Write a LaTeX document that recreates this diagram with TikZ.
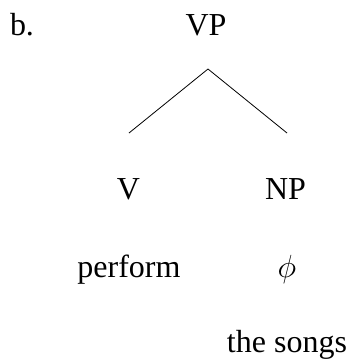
\RequirePackage{fix-cm}
\documentclass[tikz,border=0pt]{standalone}
\usepackage{fontspec}
\setmainfont{Liberation Serif}
\begin{document}
\begin{tikzpicture}[x=1pt,y=-1pt,
  lbl/.style={inner sep=0pt,anchor=base,font=\fontsize{32}{38}\selectfont},
  branch/.style={line width=0.8pt}]
\useasboundingbox (0,0) rectangle (352,360);
\node[lbl] (ex) at (22,35) {b.};
\node[lbl] (VP) at (206,35) {VP};
\node[lbl] (V) at (128.5,199) {V};
\node[lbl] (NP) at (285.5,199) {NP};
\node[lbl] (perform) at (129,277) {perform};
\node[lbl] (phi) at (287,277) {$\phi$};
\node[lbl] (songs) at (287,352) {the songs};
\coordinate (apex) at (208,69);
\coordinate (vtop) at (129,133);
\coordinate (nptop) at (287,133);
\draw[branch] (apex) -- (vtop);
\draw[branch] (apex) -- (nptop);
\end{tikzpicture}
\end{document}
